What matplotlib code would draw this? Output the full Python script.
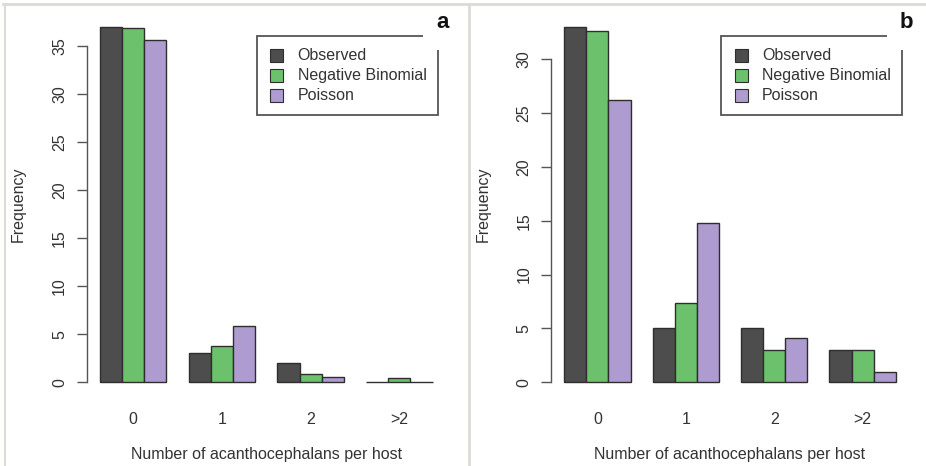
import matplotlib
matplotlib.use("Agg")
import matplotlib.pyplot as plt
from matplotlib.patches import Rectangle
from matplotlib.lines import Line2D
import numpy as np

plt.rcParams['font.family'] = ['Liberation Sans', 'DejaVu Sans']

categories = ["0", "1", "2", ">2"]
series_names = ["Observed", "Negative Binomial", "Poisson"]
colors = ["#4d4d4d", "#6cc26c", "#ae9bd0"]

a_observed = [37, 3, 2, 0]
a_negbin = [36.9, 3.8, 0.9, 0.45]
a_poisson = [35.6, 5.9, 0.5, 0.05]

b_observed = [33, 5, 5, 3]
b_negbin = [32.6, 7.35, 3.0, 3.0]
b_poisson = [26.2, 14.8, 4.15, 0.95]

a_yticks = [0, 5, 10, 15, 20, 25, 30, 35]
b_yticks = [0, 5, 10, 15, 20, 25, 30]

W, H = 926, 466
FS = 11.5
TXT = '#333333'
fig = plt.figure(figsize=(W / 100, H / 100), dpi=100)


def fx(x):
    return x / W


def fy(y):
    return 1 - y / H


def px_axes(left, top, right, bottom):
    return fig.add_axes([left / W, 1 - bottom / H, (right - left) / W, (bottom - top) / H])


def panel(ax, series, yticks, letter, legend_box, letter_xy, patch_box, ylabel_x):
    maxh = max(max(s) for s in series)
    n = len(categories)
    for j, (vals, c, name) in enumerate(zip(series, colors, series_names)):
        lefts = np.arange(n) * 4 + 1 + j
        ax.bar(lefts, vals, width=1, align='edge', color=c, edgecolor='#2e2e2e',
               linewidth=1.0, label=name)
    ax.set_xlim(1 - 0.6, 16 + 0.6)
    ax.set_ylim(-0.04 * maxh, maxh * 1.04)
    for s in ['top', 'right', 'bottom']:
        ax.spines[s].set_visible(False)
    ax.spines['left'].set_bounds(yticks[0], yticks[-1])
    ax.spines['left'].set_color('#555555')
    ax.spines['left'].set_linewidth(1.0)
    ax.set_yticks(yticks)
    ax.set_yticklabels([str(t) for t in yticks], rotation=90, va='center',
                       fontsize=FS, color=TXT)
    ax.tick_params(axis='y', length=7, width=1.0, color='#555555', pad=7)
    ax.set_xticks(np.arange(n) * 4 + 2.5)
    ax.set_xticklabels(categories, fontsize=FS, color=TXT)
    ax.tick_params(axis='x', length=0, pad=11)
    ax.patch.set_alpha(0)

    pos = ax.get_position()
    fig.text(pos.x0 + pos.width / 2, fy(455), "Number of acanthocephalans per host",
             fontsize=FS, color=TXT, ha='center', va='center')
    fig.text(fx(ylabel_x), pos.y0 + pos.height / 2, "Frequency", rotation=90,
             fontsize=FS, color=TXT, ha='center', va='center')

    # legend (drawn as box + keys + labels)
    lx0, ly0, lx1, ly1 = legend_box
    fig.patches.append(Rectangle((fx(lx0), fy(ly1)), (lx1 - lx0) / W, (ly1 - ly0) / H,
                                 transform=fig.transFigure, facecolor='white',
                                 edgecolor='#555555', linewidth=1.3, zorder=5))
    for i, (c, name) in enumerate(zip(colors, series_names)):
        cy = ly0 + 20 + i * 20
        fig.patches.append(Rectangle((fx(lx0 + 13.5), fy(cy + 6.5)), 13 / W, 13 / H,
                                     transform=fig.transFigure, facecolor=c,
                                     edgecolor='#2e2e2e', linewidth=0.8, zorder=6))
        fig.text(fx(lx0 + 41), fy(cy), name, fontsize=FS, color=TXT,
                 ha='left', va='center', zorder=6)

    px0, py0, px1, py1 = patch_box
    fig.patches.append(Rectangle((fx(px0), fy(py1)), (px1 - px0) / W, (py1 - py0) / H,
                                 transform=fig.transFigure, facecolor='white',
                                 edgecolor='none', zorder=10))
    fig.text(fx(letter_xy[0]), fy(letter_xy[1]), letter, fontsize=16,
             fontweight='bold', ha='center', va='center', color='#111111', zorder=11)


ax_a = px_axes(86.5, 12.5, 446, 396.5)
panel(ax_a, [a_observed, a_negbin, a_poisson], a_yticks, 'a',
      (256.5, 35.5, 437.5, 114.5), (442.5, 23), (423, 8, 464, 50), 18)

ax_b = px_axes(551, 12.5, 909, 396.5)
panel(ax_b, [b_observed, b_negbin, b_poisson], b_yticks, 'b',
      (721, 35.5, 902, 114.5), (906.5, 23), (887, 8, 922, 50), 483)

# outer frame lines
border = '#dcdcd6'
fig.add_artist(Line2D([fx(3), 1], [fy(4), fy(4)], transform=fig.transFigure,
                      color=border, linewidth=2, zorder=12))
fig.add_artist(Line2D([fx(4.5), fx(4.5)], [0, fy(4)], transform=fig.transFigure,
                      color=border, linewidth=1.5, zorder=12))
fig.add_artist(Line2D([fx(469), fx(469)], [0, fy(4)], transform=fig.transFigure,
                      color=border, linewidth=2, zorder=12))

fig.savefig("out.png", dpi=100)
